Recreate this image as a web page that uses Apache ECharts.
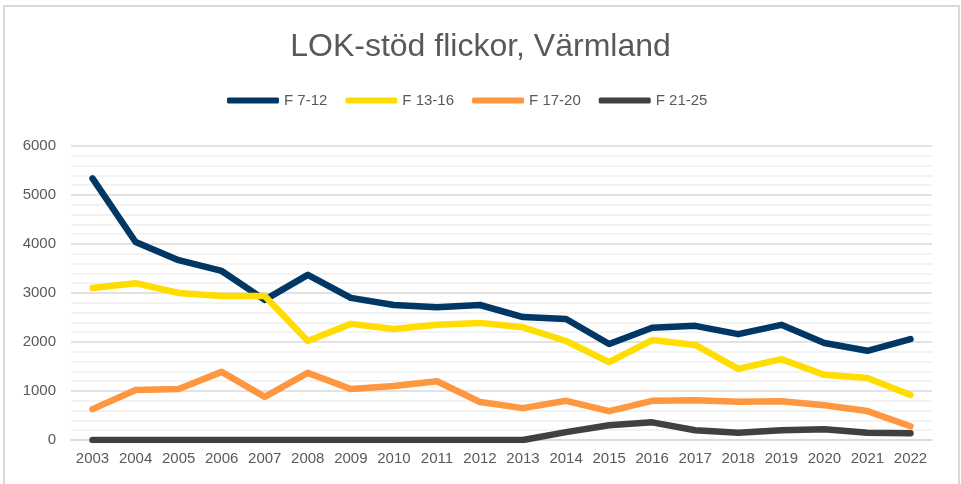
<!DOCTYPE html>
<html>
<head>
<meta charset="utf-8">
<script src="https://cdn.jsdelivr.net/npm/echarts@6/dist/echarts.min.js"></script>
<style>
  html, body { margin: 0; padding: 0; background: #fff; }
  #main { width: 961px; height: 484px; }
</style>
</head>
<body>
<div id="main"></div>
<script>
// data
var years = ['2003','2004','2005','2006','2007','2008','2009','2010','2011','2012',
             '2013','2014','2015','2016','2017','2018','2019','2020','2021','2022'];
var f7_12  = [5340,4040,3670,3450,2860,3370,2900,2755,2710,2755,2510,2470,1960,2290,2330,2160,2350,1980,1820,2060];
var f13_16 = [3100,3200,3000,2940,2940,2020,2370,2265,2350,2390,2300,2020,1590,2040,1940,1450,1650,1330,1265,920];
var f17_20 = [630,1020,1040,1390,880,1370,1040,1100,1200,775,650,800,590,800,810,780,790,710,590,280];
var f21_25 = [0,0,0,0,0,0,0,0,0,0,0,160,300,360,200,150,200,220,150,140];
var seriesNames = ['F 7-12','F 13-16','F 17-20','F 21-25'];
var colors = ['#003764','#FFDD00','#FF9640','#404040'];

var chart = echarts.init(document.getElementById('main'));

//拼 series
var seriesData = [f7_12, f13_16, f17_20, f21_25];
var series = [];
for (var i = 0; i < seriesData.length; i++) {
    series.push({
        name: seriesNames[i],
        type: 'line',
        data: seriesData[i],
        showSymbol: false,
        symbol: 'none',
        lineStyle: { width: 6.5, color: colors[i], cap: 'round', join: 'round' },
        itemStyle: { color: colors[i] }
    });
}

var option = {
    animation: false,
    textStyle: { fontFamily: 'Liberation Sans, Arial, sans-serif' },
    graphic: [{
        type: 'rect',
        shape: { x: 4, y: 6, width: 955, height: 520 },
        style: { fill: 'none', stroke: '#d9d9d9', lineWidth: 2 },
        silent: true
    }],
    title: {
        text: 'LOK-stöd flickor, Värmland',
        left: 'center',
        top: 26,
        textStyle: { fontSize: 32, fontWeight: 'normal', color: '#595959' }
    },
    legend: {
        left: 222,
        top: 88,
        itemWidth: 52,
        itemHeight: 6,
        itemGap: 18,
        icon: 'roundRect',
        textStyle: { fontSize: 15, color: '#595959' },
        data: seriesNames
    },
    grid: { left: 71, right: 29, top: 146, bottom: 44 },
    xAxis: {
        type: 'category',
        data: years,
        boundaryGap: true,
        axisLine: { show: true, lineStyle: { color: '#d9d9d9', width: 1.5 } },
        axisTick: { show: false },
        axisLabel: { fontSize: 15, color: '#595959', margin: 11, interval: 0 }
    },
    yAxis: {
        type: 'value',
        min: 0,
        max: 6000,
        interval: 1000,
        axisLine: { show: false },
        axisTick: { show: false },
        axisLabel: { fontSize: 15, color: '#595959', margin: 15, formatter: function (v) { return String(v); } },
        splitLine: { lineStyle: { color: '#d9d9d9', width: 1.5 } },
        minorTick: { show: false, splitNumber: 5 },
        minorSplitLine: { show: true, lineStyle: { color: '#f0f0f0', width: 1.5 } }
    },
    series: series
};

chart.setOption(option);
</script>
</body>
</html>
